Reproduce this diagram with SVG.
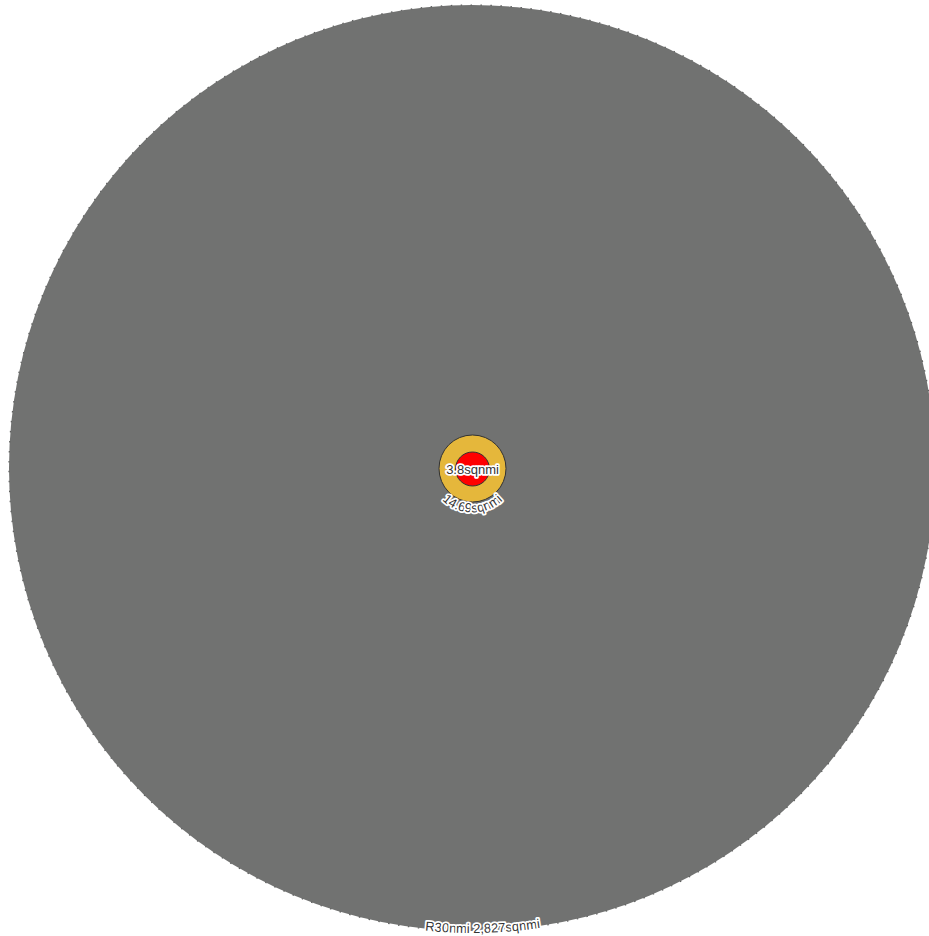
<svg xmlns="http://www.w3.org/2000/svg" xmlns:xlink="http://www.w3.org/1999/xlink" width="929" height="936" viewBox="0 0 929 936">
  <style>
    .lbl { font-family: "Liberation Sans", Arial, sans-serif; font-size: 13px; fill: #333333; stroke: #ffffff; stroke-width: 3.5px; stroke-linejoin: round; paint-order: stroke fill; }
    .ring { stroke: #333333; stroke-width: 1; }
  </style>
  <defs>
    <path id="arcBig" d="M 7,468 A 465 465 0 0 0 937,468"/>
    <path id="arcMid" d="M 428.5,468.5 A 44 44 0 0 0 516.5,468.5"/>
  </defs>
  <rect x="0" y="0" width="929" height="936" fill="#ffffff"/>
  <g id="range-30nmi">
    <circle cx="472" cy="468" r="463" fill="#717271" stroke="#5e5f5e" stroke-width="1.2" stroke-dasharray="1.5 8.5"/>
    <text class="lbl"><textPath xlink:href="#arcBig" href="#arcBig" startOffset="741" text-anchor="middle">R30nmi 2,827sqnmi</textPath></text>
  </g>
  <g id="zone-14-69">
    <circle class="ring" cx="472.5" cy="468.5" r="33.5" fill="#e5b73b"/>
    <text class="lbl"><textPath xlink:href="#arcMid" href="#arcMid" startOffset="50%" text-anchor="middle">14.69sqnmi</textPath></text>
  </g>
  <g id="zone-3-8">
    <circle class="ring" cx="472.5" cy="469" r="17" fill="#ff0000"/>
    <text class="lbl" x="472.5" y="473.5" text-anchor="middle">3.8sqnmi</text>
  </g>
</svg>
